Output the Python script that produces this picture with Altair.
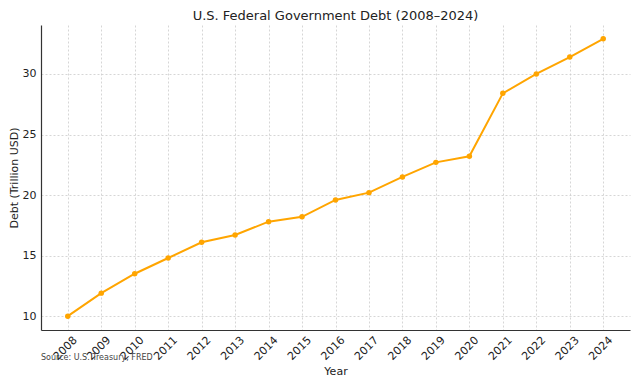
import altair as alt
import pandas as pd

years = list(range(2008, 2025))
debt = [10.0, 11.9, 13.5, 14.8, 16.1, 16.7, 17.8, 18.2, 19.6, 20.2,
        21.5, 22.7, 23.2, 28.4, 30.0, 31.4, 32.9]
source_note = ["Source: U.S. Treasury, FRED"]

df = pd.DataFrame({"Year": years, "Debt": debt})
note_df = pd.DataFrame({"note": source_note})

FONT = "DejaVu Sans"
COLOR = "#FFA500"

x = alt.X("Year:Q",
          scale=alt.Scale(domain=[2007.2, 2024.8], nice=False, zero=False),
          axis=alt.Axis(values=years, format="d", labelAngle=-45, labelAlign="right",
                        labelBaseline="top", title="Year", ticks=False, labelPadding=4,
                        labelOffset=3, titlePadding=4))
y = alt.Y("Debt:Q",
          scale=alt.Scale(domain=[8.855, 34.045], nice=False, zero=False),
          axis=alt.Axis(values=[10, 15, 20, 25, 30], title="Debt (Trillion USD)",
                        ticks=False, labelPadding=5, titlePadding=3))

base = alt.Chart(df)
line = base.mark_line(color=COLOR, strokeWidth=2).encode(x=x, y=y)
pts = base.mark_circle(color=COLOR, size=30, opacity=1).encode(x=x, y=y)

note = alt.Chart(note_df).mark_text(align="left", baseline="middle", fontSize=8,
                                    font=FONT, color="#444").encode(
    x=alt.value(0), y=alt.value(333), text="note:N")

chart = (line + pts + note).properties(
    width=589, height=305,
    title=alt.Title("U.S. Federal Government Debt (2008–2024)", fontSize=13,
                    font=FONT, fontWeight="normal", color="#222", offset=2),
    autosize=alt.AutoSizeParams(type="none"),
    padding={"left": 33, "top": 17, "right": 2, "bottom": 50},
).configure_view(stroke=None).configure_axis(
    labelFont=FONT, titleFont=FONT, labelFontSize=11, titleFontSize=11,
    labelColor="#222", titleColor="#222", titleFontWeight="normal",
    gridColor="#cccccc", gridDash=[2, 2], gridWidth=0.8,
    domainColor="#333", domainWidth=1.2,
).configure_axisX(grid=True).configure_axisY(grid=True)

chart.save("out.html", embed_options={"renderer": "svg", "actions": False})
